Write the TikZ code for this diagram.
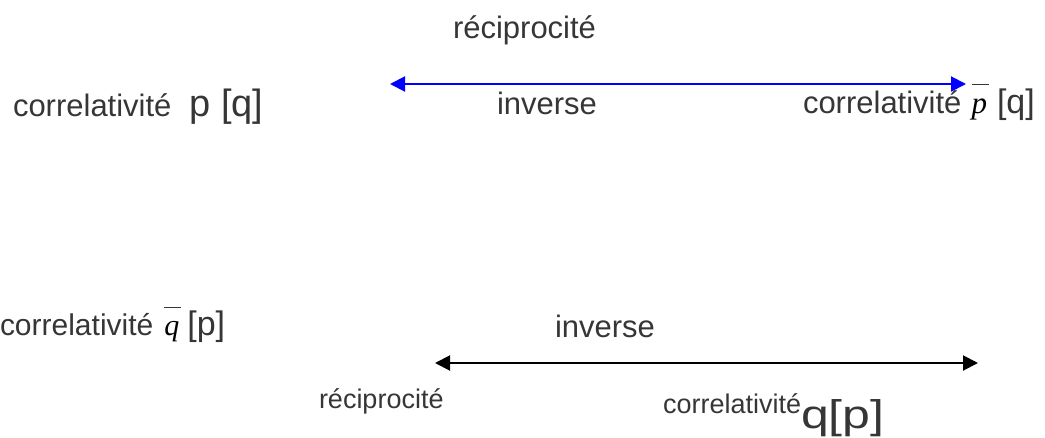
\documentclass[tikz,border=0pt]{standalone}
\usepackage{fontspec}
\usepackage{graphicx}
\setmainfont{Liberation Sans}
\newfontfamily\serifit{Liberation Serif}[ItalicFont={Liberation Serif Italic}]
\usetikzlibrary{arrows.meta}
\definecolor{txt}{HTML}{363636}
\definecolor{bluearrow}{HTML}{0000FF}
\newcommand\fs[1]{\fontsize{#1}{#1}\selectfont}
\newcommand\barred[1]{\makebox[0pt][l]{\raisebox{0.9em}{\rule{0.55em}{0.05em}}}{\serifit\itshape\color{black}#1}}
\tikzset{
  lbl/.style={anchor=base west, inner sep=0pt, outer sep=0pt, text=txt},
  dbl/.style={line width=2pt, {Triangle[length=15pt,width=15pt]}-{Triangle[length=15pt,width=15pt]}}
}
\begin{document}
\begin{tikzpicture}[x=1pt,y=-1pt]
\useasboundingbox (0,0) rectangle (1045,437);
% top row
\node[lbl] (rec1) at (453,38) {\fs{31}réciprocité};
\node[lbl] (cor1) at (13,116) {\fs{31}correlativité\hspace{18pt}\fs{38}p [q]};
\node[lbl] (inv1) at (497,114) {\fs{31}inverse};
\node[lbl] (cor2) at (803,113) {\fs{31}correlativité\hspace{10pt}\barred{p}\hspace{10pt}\fs{34}[q]};
\coordinate (a1) at (390,84);
\coordinate (b1) at (966,84);
\draw[dbl, bluearrow] (a1) -- (b1);
% bottom row
\node[lbl] (cor3) at (0,335) {\fs{30}correlativité\hspace{11pt}\barred{q}\hspace{8pt}\fs{34}[p]};
\node[lbl] (inv2) at (555,337) {\fs{31}inverse};
\coordinate (a2) at (435,363);
\coordinate (b2) at (978,363);
\draw[dbl, black] (a2) -- (b2);
\node[lbl] (rec2) at (319,408) {\fs{27}réciprocité};
\node[lbl] (cor4) at (663,413) {\fs{27}correlativité};
\node[lbl] (qp) at (cor4.base east) [yshift=-15pt] {\fs{40}\scalebox{1.25}[1]{q[p]}};
\end{tikzpicture}
\end{document}
